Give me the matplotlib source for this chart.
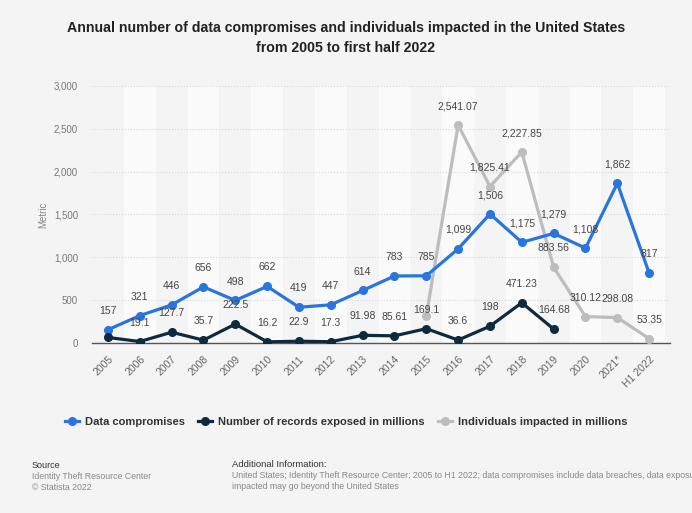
import matplotlib
matplotlib.use('Agg')
import matplotlib.pyplot as plt
from matplotlib.ticker import FuncFormatter

plt.rcParams['font.family'] = ['Liberation Sans', 'DejaVu Sans']

years = ['2005', '2006', '2007', '2008', '2009', '2010', '2011', '2012', '2013',
         '2014', '2015', '2016', '2017', '2018', '2019', '2020', '2021*', 'H1 2022']

compromises = [157, 321, 446, 656, 498, 662, 419, 447, 614, 783, 785, 1099,
               1506, 1175, 1279, 1108, 1862, 817]
compromises_lbl = ['157', '321', '446', '656', '498', '662', '419', '447', '614',
                   '783', '785', '1,099', '1,506', '1,175', '1,279', '1,108', '1,862', '817']

records = [67, 19.1, 127.7, 35.7, 222.5, 16.2, 22.9, 17.3, 91.98, 85.61, 169.1,
           36.6, 198, 471.23, 164.68]
records_lbl = [None, '19.1', '127.7', '35.7', '222.5', '16.2', '22.9', '17.3',
               '91.98', '85.61', '169.1', '36.6', '198', '471.23', '164.68']

individuals = [320, 2541.07, 1825.41, 2227.85, 883.56, 310.12, 298.08, 53.35]
individuals_lbl = [None, '2,541.07', '1,825.41', '2,227.85', '883.56', '310.12',
                   '298.08', '53.35']

blue = '#2876dd'
navy = '#0f2a3f'
grey = '#bdbdbd'
bg = '#f4f4f4'

fig = plt.figure(figsize=(6.92, 5.13), dpi=100, facecolor=bg)
ax = fig.add_axes([0.133, 0.331, 0.835, 0.502])
ax.set_facecolor(bg)

n = len(years)
x = list(range(n))
for i in x:
    if i % 2 == 1:
        ax.axvspan(i - 0.5, i + 0.5, color='#fafafa', zorder=0, lw=0)

ax.plot(x[10:], individuals, color=grey, lw=2.3, marker='o', ms=5.5, zorder=3,
        label='Individuals impacted in millions')
ax.plot(x, compromises, color=blue, lw=2.3, marker='o', ms=5.5, zorder=4,
        label='Data compromises')
ax.plot(x[:len(records)], records, color=navy, lw=2.3, marker='o', ms=5.5, zorder=5,
        label='Number of records exposed in millions')

def put_labels(xs, ys, lbls):
    for xi, yi, t in zip(xs, ys, lbls):
        if t is None:
            continue
        ax.annotate(t, (xi, yi), xytext=(0, 10), textcoords='offset points',
                    ha='center', va='bottom', fontsize=7.5, color='#444444', zorder=6)

put_labels(x, compromises, compromises_lbl)
put_labels(x[:len(records)], records, records_lbl)
put_labels(x[10:], individuals, individuals_lbl)

ax.set_xlim(-0.5, n - 0.35)
ax.set_ylim(0, 3000)
ax.set_yticks(range(0, 3001, 500))
ax.yaxis.set_major_formatter(FuncFormatter(lambda v, p: f'{int(v):,}'))
ax.set_xticks(x)
ax.set_xticklabels(years, rotation=45, ha='right', rotation_mode='anchor')
ax.tick_params(axis='x', length=0, labelsize=7.5, colors='#666666', pad=8)
ax.tick_params(axis='y', length=0, labelsize=7, colors='#777777', pad=10)
ax.grid(axis='y', color='#d8d8d8', ls=':', lw=0.8, zorder=1)
for s in ['top', 'right', 'left']:
    ax.spines[s].set_visible(False)
ax.spines['bottom'].set_color('#555555')
ax.spines['bottom'].set_linewidth(1)
ax.set_ylabel('Metric', fontsize=7, color='#888888', labelpad=4)

fig.text(0.5, 0.925, 'Annual number of data compromises and individuals impacted in the United States\nfrom 2005 to first half 2022',
         ha='center', va='center', fontsize=10.2, fontweight='bold', color='#222222', linespacing=1.55)

h, l = ax.get_legend_handles_labels()
order = [1, 2, 0]
leg = fig.legend([h[i] for i in order], [l[i] for i in order], loc='center',
                 bbox_to_anchor=(0.5, 0.177), ncol=3, frameon=False, fontsize=8,
                 handlelength=1.3, columnspacing=1.2, handletextpad=0.5)
for t in leg.get_texts():
    t.set_fontweight('bold')
    t.set_color('#333333')

fig.text(0.046, 0.092, 'Source', fontsize=6.5, color='#333333', va='center')
fig.text(0.046, 0.071, 'Identity Theft Resource Center', fontsize=6.3, color='#888888', va='center')
fig.text(0.046, 0.050, '\u00a9 Statista 2022', fontsize=6.3, color='#888888', va='center')
fig.text(0.335, 0.095, 'Additional Information:', fontsize=6.8, color='#333333', va='center')
fig.text(0.335, 0.073, 'United States; Identity Theft Resource Center; 2005 to H1 2022; data compromises include data breaches, data exposure',
         fontsize=6.3, color='#888888', va='center')
fig.text(0.335, 0.051, 'impacted may go beyond the United States', fontsize=6.3, color='#888888', va='center')

fig.savefig('out.png', dpi=100, facecolor=bg)
